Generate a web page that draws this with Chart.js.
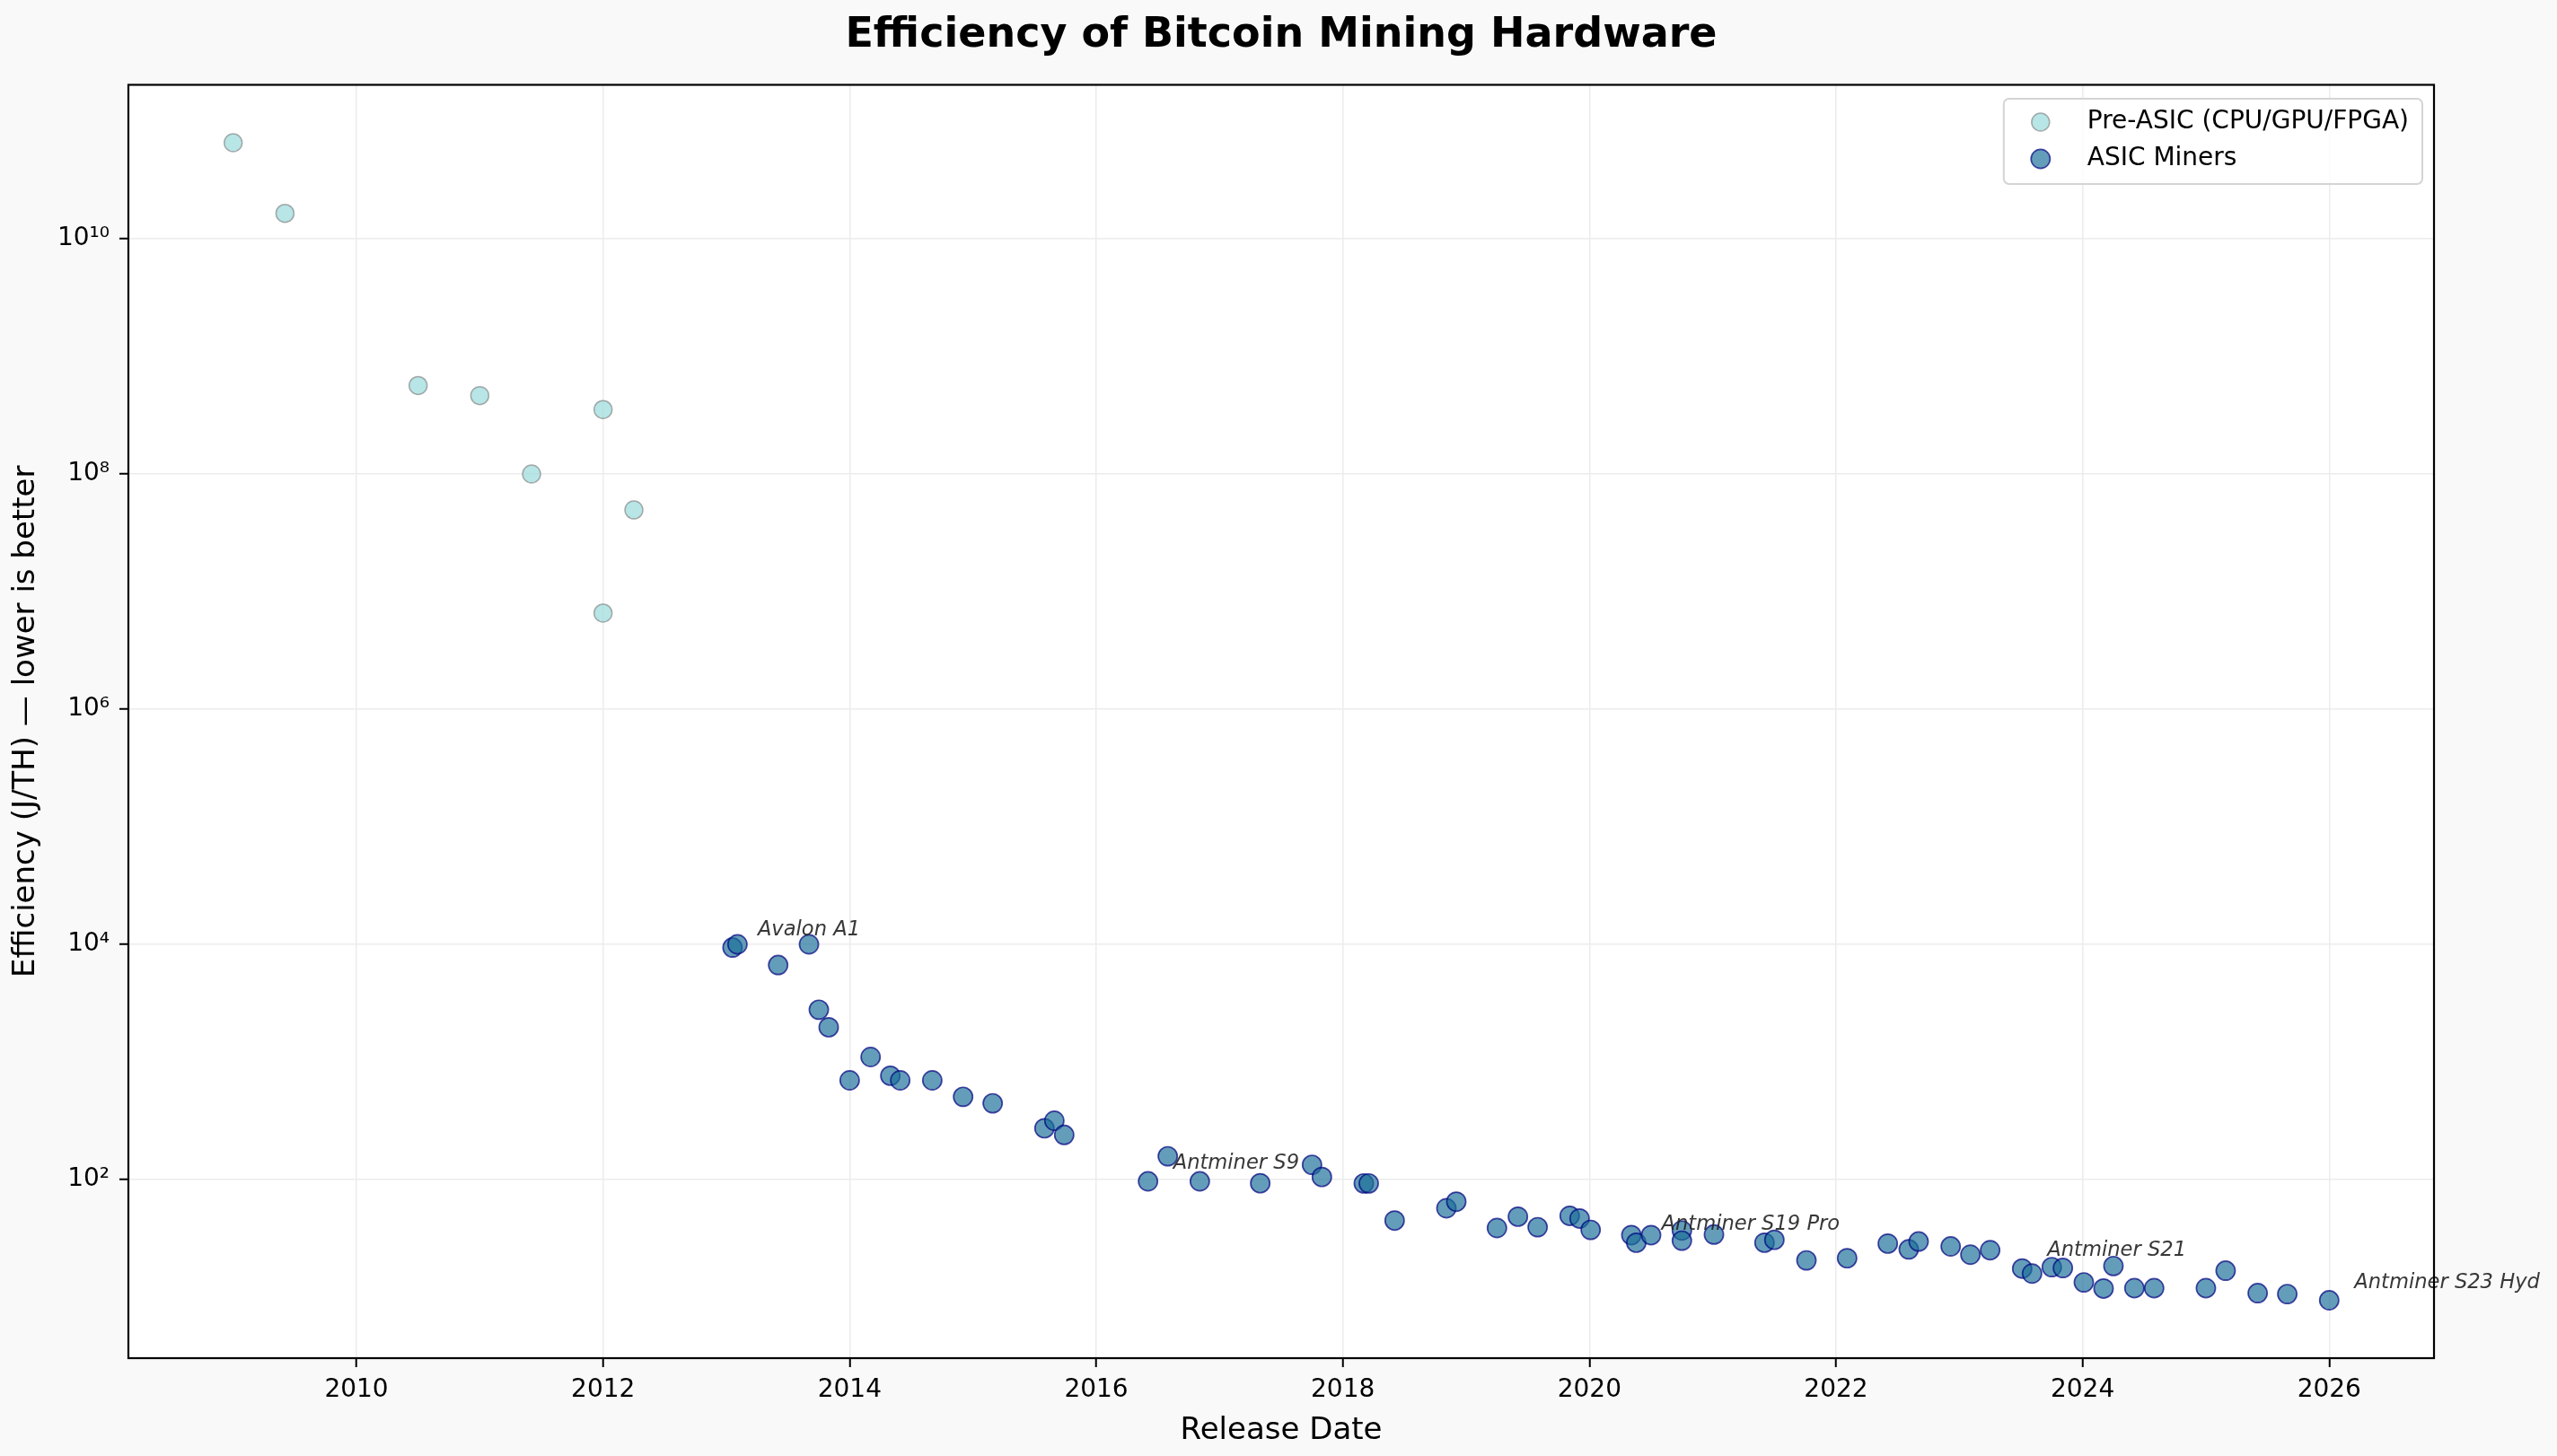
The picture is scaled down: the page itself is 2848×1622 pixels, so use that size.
<!DOCTYPE html>
<html>
<head>
<meta charset="utf-8">
<title>Efficiency of Bitcoin Mining Hardware</title>
<script src="https://cdn.jsdelivr.net/npm/chart.js@4.4.1/dist/chart.umd.min.js"></script>
<style>
  html, body { margin: 0; padding: 0; background: #f9f9f9; }
  #chart { display: block; width: 2848px; height: 1622px; }
</style>
</head>
<body>
<canvas id="chart" width="2848" height="1622" role="img"
  aria-label="Scatter plot of bitcoin mining hardware efficiency in J/TH by release date, log scale"></canvas>
<script>
const FONT = "'DejaVu Sans', sans-serif";

/* Release dates as decimal years, efficiency in J/TH. */
const PRE_ASIC_DATES = [2009.0, 2009.42, 2010.5, 2011.0, 2011.42, 2012.0, 2012.25, 2012.0];
const PRE_ASIC_EFFICIENCY = [6.5e10, 1.63e10, 5.6e8, 4.6e8, 9.9e7, 3.5e8, 4.9e7, 6.5e6];

const ASIC_DATES = [
  2013.05, 2013.09, 2013.42, 2013.67, 2013.75, 2013.83, 2014.0, 2014.17,
  2014.33, 2014.41, 2014.67, 2014.92, 2015.16, 2015.58, 2015.66, 2015.74,
  2016.42, 2016.58, 2016.84, 2017.33, 2017.75, 2017.83, 2018.17, 2018.21,
  2018.42, 2018.84, 2018.92, 2019.25, 2019.42, 2019.58, 2019.84, 2019.92,
  2020.01, 2020.34, 2020.38, 2020.5, 2020.75, 2020.75, 2021.01, 2021.42,
  2021.5, 2021.76, 2022.09, 2022.42, 2022.59, 2022.67, 2022.93, 2023.09,
  2023.25, 2023.51, 2023.59, 2023.75, 2023.84, 2024.01, 2024.17, 2024.25,
  2024.42, 2024.58, 2025.0, 2025.16, 2025.42, 2025.66, 2026.0,
];
const ASIC_EFFICIENCY = [
  9300, 9900, 6600, 9900, 2750, 1950, 690, 1090,
  755, 690, 690, 500, 440, 270, 313, 237,
  95.5, 156, 95.5, 92, 132, 104, 91.7, 91.7,
  44.3, 56.4, 64.1, 38.3, 47.8, 38.9, 48.6, 46.1,
  36.9, 33.3, 28.7, 33.3, 36.5, 29.9, 33.7, 28.7,
  30.4, 20.3, 21.2, 28.2, 25.2, 29.4, 26.7, 22.7,
  24.8, 17.3, 15.7, 17.8, 17.5, 13.2, 11.7, 18.2,
  11.8, 11.8, 11.8, 16.6, 10.7, 10.5, 9.3,
];

const ANNOTATED_MODELS = ['Avalon A1', 'Antminer S9', 'Antminer S19 Pro', 'Antminer S21', 'Antminer S23 Hyd'];
const ANNOTATED_DATES = [2013.05, 2016.42, 2020.38, 2023.51, 2026.0];
const ANNOTATED_EFFICIENCY = [9300, 95.5, 28.7, 17.3, 9.3];

const YEAR_TICKS = [2010, 2012, 2014, 2016, 2018, 2020, 2022, 2024, 2026];
const DECADE_TICKS = [1e2, 1e4, 1e6, 1e8, 1e10];
const SERIES_LABELS = ['Pre-ASIC (CPU/GPU/FPGA)', 'ASIC Miners'];

/* Axis limits with a 5% margin, the way matplotlib pads autoscaled data. */
const allDates = PRE_ASIC_DATES.concat(ASIC_DATES);
const allLogs = PRE_ASIC_EFFICIENCY.concat(ASIC_EFFICIENCY).map(Math.log10);
const dateLo = Math.min(...allDates);
const dateHi = Math.max(...allDates);
const datePad = (dateHi - dateLo) * 0.05;
const logLo = Math.min(...allLogs);
const logHi = Math.max(...allLogs);
const logPad = (logHi - logLo) * 0.05;

const SUPERSCRIPT = '⁰¹²³⁴⁵⁶⁷⁸⁹';
function powerOfTen(value) {
  const exp = String(Math.round(Math.log10(value)));
  return '10' + [...exp].map((d) => SUPERSCRIPT[Number(d)]).join('');
}

function toPoints(dates, values) {
  return dates.map((x, i) => ({ x, y: values[i] }));
}

function drawLegend(chart) {
  const { ctx, chartArea: area } = chart;
  const datasets = chart.data.datasets;
  ctx.save();
  ctx.font = `28px ${FONT}`;
  const textWidth = Math.max(...datasets.map((d) => ctx.measureText(d.label).width));
  const right = area.right - 13;
  const top = area.top + 15.5;
  const left = right - (41 + 52 + textWidth + 15);

  ctx.beginPath();
  ctx.roundRect(left, top, right - left, 95, 6);
  ctx.fillStyle = 'rgba(255, 255, 255, 0.8)';
  ctx.fill();
  ctx.lineWidth = 2;
  ctx.strokeStyle = '#d4d4d4';
  ctx.stroke();

  datasets.forEach((ds, i) => {
    const cx = left + 41;
    const cy = top + 26 + i * 41;
    ctx.beginPath();
    ctx.arc(cx, cy, ds.pointRadius, 0, Math.PI * 2);
    ctx.fillStyle = ds.backgroundColor;
    ctx.fill();
    ctx.lineWidth = ds.borderWidth;
    ctx.strokeStyle = ds.borderColor;
    ctx.stroke();
    ctx.fillStyle = '#000';
    ctx.textAlign = 'left';
    ctx.textBaseline = 'middle';
    ctx.fillText(ds.label, cx + 52, cy);
  });
  ctx.restore();
}

/* Paper background, white axes face, black frame, model notes, legend. */
const framePlugin = {
  id: 'frame',
  beforeDraw(chart) {
    const { ctx, chartArea: area } = chart;
    ctx.save();
    ctx.fillStyle = '#f9f9f9';
    ctx.fillRect(0, 0, chart.width, chart.height);
    ctx.fillStyle = '#ffffff';
    ctx.fillRect(area.left, area.top, area.width, area.height);
    ctx.restore();
  },
  afterDatasetsDraw(chart) {
    const { ctx, chartArea: area, scales } = chart;
    ctx.save();
    ctx.font = `italic 22.6px ${FONT}`;
    ctx.fillStyle = 'rgba(34, 34, 34, 0.9)';
    ctx.textAlign = 'left';
    ctx.textBaseline = 'alphabetic';
    ANNOTATED_MODELS.forEach((name, i) => {
      const px = scales.x.getPixelForValue(ANNOTATED_DATES[i]);
      const py = scales.y.getPixelForValue(ANNOTATED_EFFICIENCY[i]);
      ctx.fillText(name, px + 28, py - 14);
    });

    ctx.lineWidth = 2.2;
    ctx.strokeStyle = '#000';
    ctx.strokeRect(area.left, area.top, area.width, area.height);
    ctx.restore();

    drawLegend(chart);
  },
};

new Chart(document.getElementById('chart'), {
  type: 'scatter',
  data: {
    datasets: [
      {
        label: SERIES_LABELS[0],
        data: toPoints(PRE_ASIC_DATES, PRE_ASIC_EFFICIENCY),
        backgroundColor: 'rgba(160, 220, 222, 0.75)',
        borderColor: 'rgba(120, 120, 120, 0.6)',
        borderWidth: 1.5,
        pointRadius: 10,
      },
      {
        label: SERIES_LABELS[1],
        data: toPoints(ASIC_DATES, ASIC_EFFICIENCY),
        backgroundColor: 'rgba(26, 110, 152, 0.68)',
        borderColor: 'rgba(0, 0, 128, 0.7)',
        borderWidth: 1.7,
        pointRadius: 10.6,
      },
    ],
  },
  options: {
    responsive: false,
    devicePixelRatio: 1,
    animation: false,
    events: [],
    layout: { padding: { left: 0, right: 137, top: 0, bottom: 0 } },
    font: { family: FONT },
    scales: {
      x: {
        type: 'linear',
        min: dateLo - datePad,
        max: dateHi + datePad,
        afterBuildTicks(scale) {
          scale.ticks = YEAR_TICKS.map((value) => ({ value }));
        },
        afterFit(scale) {
          scale.height = 109;
        },
        border: { display: false },
        grid: {
          color: '#ececec',
          lineWidth: 1.5,
          tickColor: '#000',
          tickWidth: 2,
          tickLength: 10,
        },
        ticks: {
          color: '#000',
          padding: 9,
          maxRotation: 0,
          font: { family: FONT, size: 28 },
          callback: (value) => String(value),
        },
        title: {
          display: true,
          text: 'Release Date',
          color: '#000',
          font: { family: FONT, size: 34 },
          padding: { top: 0, bottom: 7.5 },
        },
      },
      y: {
        type: 'logarithmic',
        min: Math.pow(10, logLo - logPad),
        max: Math.pow(10, logHi + logPad),
        afterBuildTicks(scale) {
          scale.ticks = DECADE_TICKS.map((value) => ({ value }));
        },
        afterFit(scale) {
          scale.width = 143;
        },
        border: { display: false },
        grid: {
          color: '#ececec',
          lineWidth: 1.5,
          tickColor: '#000',
          tickWidth: 2,
          tickLength: 10,
        },
        ticks: {
          color: '#000',
          padding: 11,
          font: { family: FONT, size: 28 },
          callback: (value) => powerOfTen(value),
        },
        title: {
          display: true,
          text: 'Efficiency (J/TH) — lower is better',
          color: '#000',
          font: { family: FONT, size: 34 },
          padding: { top: 8.5, bottom: 0 },
        },
      },
    },
    plugins: {
      legend: { display: false },
      tooltip: { enabled: false },
      title: {
        display: true,
        fullSize: false,
        text: 'Efficiency of Bitcoin Mining Hardware',
        color: '#000',
        font: { family: FONT, size: 46, weight: 'bold' },
        padding: { top: 12.4, bottom: 26.9 },
      },
    },
  },
  plugins: [framePlugin],
});
</script>
</body>
</html>
